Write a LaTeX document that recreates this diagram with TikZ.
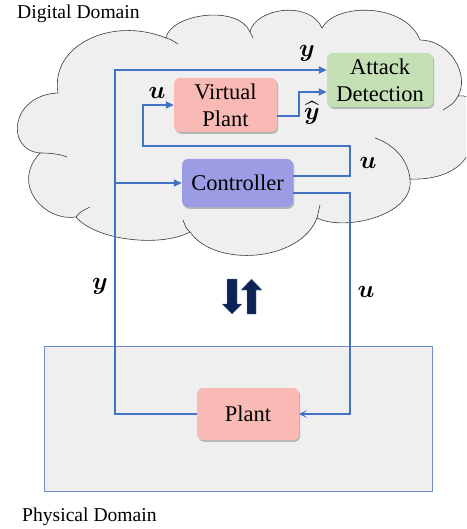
\documentclass[tikz,border=0pt]{standalone}
\usepackage{amsmath}
\usepackage{fontspec}
\setmainfont{LiberationSerif}[Extension=.ttf, UprightFont=*-Regular,
  BoldFont=*-Bold, ItalicFont=*-Italic, BoldItalicFont=*-BoldItalic]
\usetikzlibrary{arrows.meta,shadows}

\definecolor{cloudfill}{HTML}{EFEFEF}
\definecolor{cloudline}{HTML}{3A3A3A}
\definecolor{flowblue}{HTML}{4472C4}
\definecolor{framebl}{HTML}{6F8DCB}
\definecolor{plantpink}{HTML}{F9BAB5}
\definecolor{detgreen}{HTML}{C5E0B4}
\definecolor{ctrlblue}{HTML}{9C9CE4}
\definecolor{navy}{HTML}{0C2357}

\tikzset{
  blk/.style={rounded corners=6pt, align=center, inner sep=0pt,
    font=\rmfamily\fontsize{22.5}{27}\selectfont,
    drop shadow={shadow xshift=1.2pt, shadow yshift=-1.8pt, opacity=0.35, fill=black!70}},
  flow/.style={draw=flowblue, line width=1.6pt},
  tip/.style={-{Triangle[length=8pt,width=7pt]}},
  opentip/.style={-{Stealth[length=8pt,width=8pt,inset=4.5pt]}},
  sig/.style={font=\fontsize{24}{24}\selectfont, inner sep=0pt},
  domcaption/.style={font=\rmfamily\fontsize{19.6}{22}\selectfont, anchor=base west, inner sep=0pt},
  cloudedge/.style={draw=cloudline, line width=0.6pt},
  bigarrow/.style={fill=navy, draw=navy!60!white, line width=0.3pt}
}

\begin{document}
\begin{tikzpicture}[x=1pt,y=-1pt]
\useasboundingbox (0,0) rectangle (466,529);

% cloud of the digital domain
\begin{scope}
  \clip (0,0) rectangle (466,529);
  \path[fill=cloudfill, cloudedge]
    (58,93) .. controls (50,45) and (112,16) .. (166,38)
    .. controls (170,14) and (238,4) .. (250,32)
    .. controls (255,8) and (310,0) .. (322,28)
    .. controls (335,3) and (405,2) .. (420,40)
    .. controls (450,40) and (470,75) .. (458,96)
    .. controls (485,92) and (495,140) .. (470,150)
    .. controls (460,175) and (430,180) .. (410,179)
    .. controls (415,215) and (345,232) .. (317,218)
    .. controls (300,262) and (215,268) .. (190,232)
    .. controls (160,248) and (95,240) .. (76,217)
    .. controls (45,222) and (10,185) .. (40,153)
    .. controls (5,150) and (10,95) .. (58,93) -- cycle;
  % inner folds of the cloud
  \draw[cloudedge] (166,38) .. controls (170,39) .. (178,44);
  \draw[cloudedge] (40,153) .. controls (50,153) and (60,154) .. (67,157);
  \draw[cloudedge] (76,217) .. controls (80,212) .. (90,207);
  \draw[cloudedge] (190,232) .. controls (186,228) .. (183,220);
  \draw[cloudedge] (317,218) .. controls (318,212) .. (320,205);
  \draw[cloudedge] (410,179) .. controls (408,160) and (395,145) .. (375,138);
  \draw[cloudedge] (458,96) .. controls (454,103) .. (443,110);
  \draw[cloudedge] (250,32) .. controls (252,35) .. (253,38);
\end{scope}

% physical domain frame
\path[fill=cloudfill, draw=framebl, line width=0.8pt] (44,346) rectangle (432,491);

% domain captions
\node[domcaption] (digcap) at (17,18.5) {Digital Domain};
\node[domcaption] (phycap) at (22,521) {Physical Domain};

% blocks
\node[blk, fill=detgreen, minimum width=106pt, minimum height=54pt] (AD) at (380,80) {Attack\\Detection};
\node[blk, fill=plantpink, minimum width=103pt, minimum height=54pt] (VP) at (225.5,105) {Virtual\\Plant};
\node[blk, fill=ctrlblue, minimum width=111pt, minimum height=48pt] (Ctrl) at (237.5,183) {Controller};
\node[blk, fill=plantpink, minimum width=102pt, minimum height=52pt] (Plant) at (248,414) {Plant};

% routing points
\coordinate (ytop) at (115,70);
\coordinate (ybr) at (115,183);
\coordinate (uhi) at (350,176);
\coordinate (ufold) at (350,146);
\coordinate (uleft) at (143,146);
\coordinate (ulo) at (350,193);
\coordinate (yhb) at (299,116);
\coordinate (yht) at (299,92);

% measured output y, to the detector and the controller
\draw[flow, tip] (Plant.west) -| (ytop) -- (ytop -| AD.west);
\draw[flow, tip] (ybr) -- (Ctrl.west);
% control input u, to the virtual plant
\draw[flow, tip] (uhi -| Ctrl.east) -- (uhi) -- (ufold) -- (uleft) |- (VP.west);
% control input u, to the plant
\draw[flow, opentip] (ulo -| Ctrl.east) -- (ulo) |- (Plant.east);
% estimated output
\draw[flow, tip] (yhb -| VP.east) -- (yhb) -- (yht) -- (yht -| AD.west);

% signal labels
\node[sig] (ly1) at (307,53) {$\boldsymbol{y}$};
\node[sig] (lu1) at (157,93) {$\boldsymbol{u}$};
\node[sig] (lyh) at (312,113) {$\widehat{\boldsymbol{y}}$};
\node[sig] (lu2) at (368,163) {$\boldsymbol{u}$};
\node[sig] (ly2) at (100,286) {$\boldsymbol{y}$};
\node[sig] (lu3) at (366,292) {$\boldsymbol{u}$};

% exchange arrows between the domains
\path[bigarrow] (227,279) -- (237,279) -- (237,304) -- (242,304) -- (232,314)
  -- (222,304) -- (227,304) -- cycle;
\path[bigarrow] (247,314) -- (256,314) -- (256,290) -- (262,290) -- (251.5,279)
  -- (241,290) -- (247,290) -- cycle;
\end{tikzpicture}
\end{document}
